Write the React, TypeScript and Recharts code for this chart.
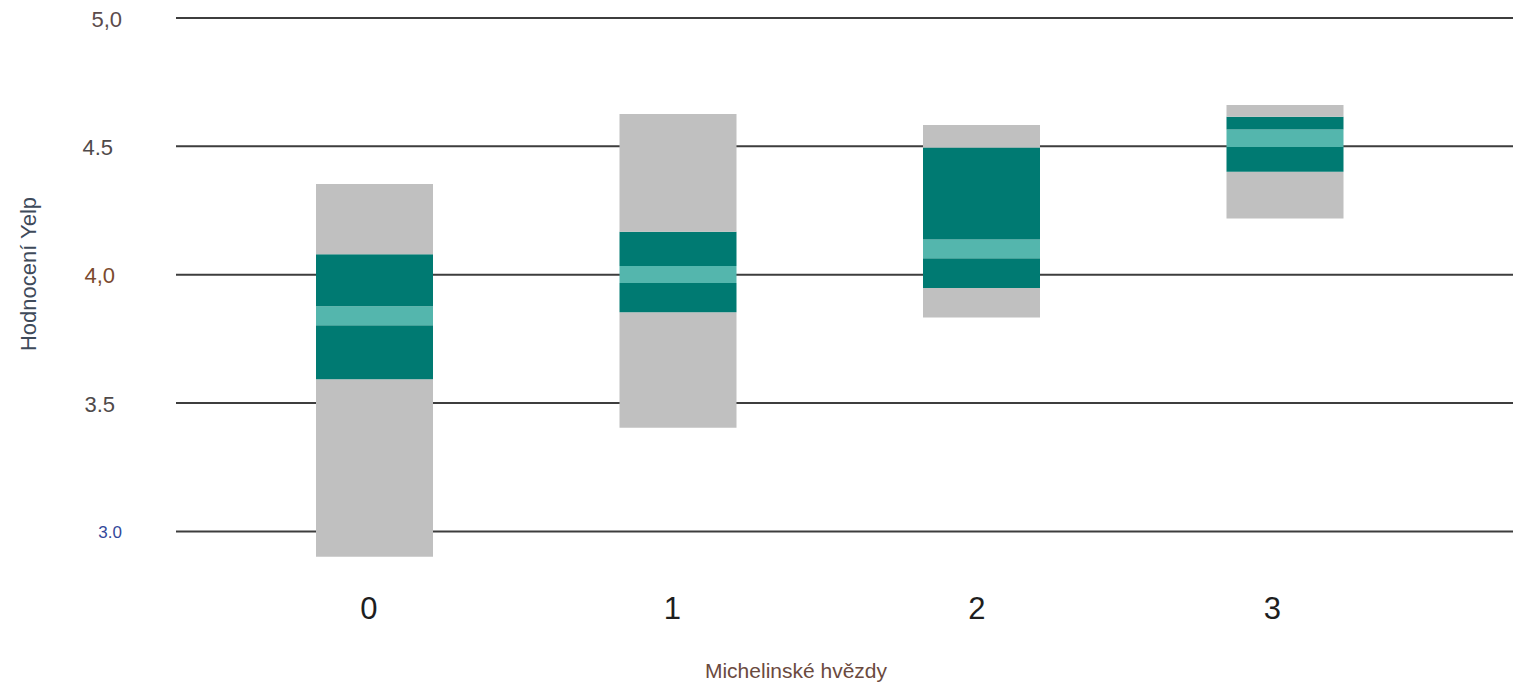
import React from "react";
import { BarChart, Bar, XAxis, YAxis, CartesianGrid } from "recharts";

const categories = ["0", "1", "2", "3"];
const minVals = [2.902, 3.404, 3.833, 4.219];
const q1Vals = [3.593, 3.854, 3.948, 4.401];
const medLowVals = [3.803, 3.968, 4.064, 4.498];
const medHighVals = [3.877, 4.034, 4.137, 4.566];
const q3Vals = [4.08, 4.167, 4.496, 4.615];
const maxVals = [4.353, 4.626, 4.583, 4.661];

const yTicks = [3.0, 3.5, 4.0, 4.5, 5.0];
const yTickLabels = ["3.0", "3.5", "4,0", "4.5", "5,0"];
const yTickColors = ["#34489a", "#4f4a4a", "#7b4a2e", "#4f4a4a", "#5b4b4b"];
const yTickSizes = [17, 22, 22, 22, 22];
const yTickEnds = [114, 107, 107, 105, 114];
const xTickShift = [-6, -6, -5, -13];

const GRAY = "#c0c0c0";
const DARK = "#007a72";
const LIGHT = "#54b6ad";

const data = categories.map((c, i) => ({
  cat: c,
  base: minVals[i],
  g1: q1Vals[i] - minVals[i],
  d1: medLowVals[i] - q1Vals[i],
  l: medHighVals[i] - medLowVals[i],
  d2: q3Vals[i] - medHighVals[i],
  g2: maxVals[i] - q3Vals[i],
}));

const FONT = "Liberation Sans, Arial, sans-serif";

const YTick = (props: any) => {
  const { y, payload } = props;
  const i = yTicks.findIndex((t) => Math.abs(t - payload.value) < 1e-6);
  if (i < 0) return null;
  return (
    <text
      x={yTickEnds[i]}
      y={y + 1}
      textAnchor="end"
      dominantBaseline="central"
      fontSize={yTickSizes[i]}
      fill={yTickColors[i]}
      fontFamily={FONT}
    >
      {yTickLabels[i]}
    </text>
  );
};

const XTick = (props: any) => {
  const { x, y, payload } = props;
  const i = categories.indexOf(String(payload.value));
  return (
    <text
      x={x + (i >= 0 ? xTickShift[i] : 0)}
      y={y + 41}
      textAnchor="middle"
      fontSize={31}
      fill="#1e1e1e"
      fontFamily={FONT}
    >
      {payload.value}
    </text>
  );
};

export default function App() {
  return (
    <div style={{ width: 1530, height: 677, background: "#fff" }}>
      <style>{`html,body{overflow:hidden}`}</style>
      <BarChart
        width={1530}
        height={677}
        data={data}
        margin={{ top: 10, right: 0, left: 0, bottom: 0 }}
        barSize={117}
      >
        <CartesianGrid
          vertical={false}
          stroke="#3d3d3d"
          strokeWidth={2}
          horizontalValues={yTicks}
        />
        <XAxis
          dataKey="cat"
          type="category"
          height={115}
          padding={{ left: 47, right: 101 }}
          axisLine={false}
          tickLine={false}
          tick={<XTick />}
          label={{
            content: () => (
              <text
                x={788}
                y={670}
                textAnchor="middle"
                fontSize={21}
                fill="#6b4a3e"
                fontFamily={FONT}
              >
                Michelinské hvězdy
              </text>
            ),
          }}
        />
        <YAxis
          type="number"
          domain={[2.85, 5]}
          ticks={yTicks}
          allowDataOverflow
          width={168}
          axisLine={false}
          tickLine={false}
          tick={<YTick />}
          label={{
            content: () => (
              <text
                x={20}
                y={266}
                textAnchor="middle"
                dominantBaseline="central"
                fontSize={22}
                fill="#3e4a5a"
                transform="rotate(-90 20 266)"
                fontFamily={FONT}
              >
                Hodnocení Yelp
              </text>
            ),
          }}
        />
        <Bar dataKey="base" stackId="a" fill="transparent" isAnimationActive={false} />
        <Bar dataKey="g1" stackId="a" fill={GRAY} isAnimationActive={false} />
        <Bar dataKey="d1" stackId="a" fill={DARK} isAnimationActive={false} />
        <Bar dataKey="l" stackId="a" fill={LIGHT} isAnimationActive={false} />
        <Bar dataKey="d2" stackId="a" fill={DARK} isAnimationActive={false} />
        <Bar dataKey="g2" stackId="a" fill={GRAY} isAnimationActive={false} />
      </BarChart>
    </div>
  );
}
